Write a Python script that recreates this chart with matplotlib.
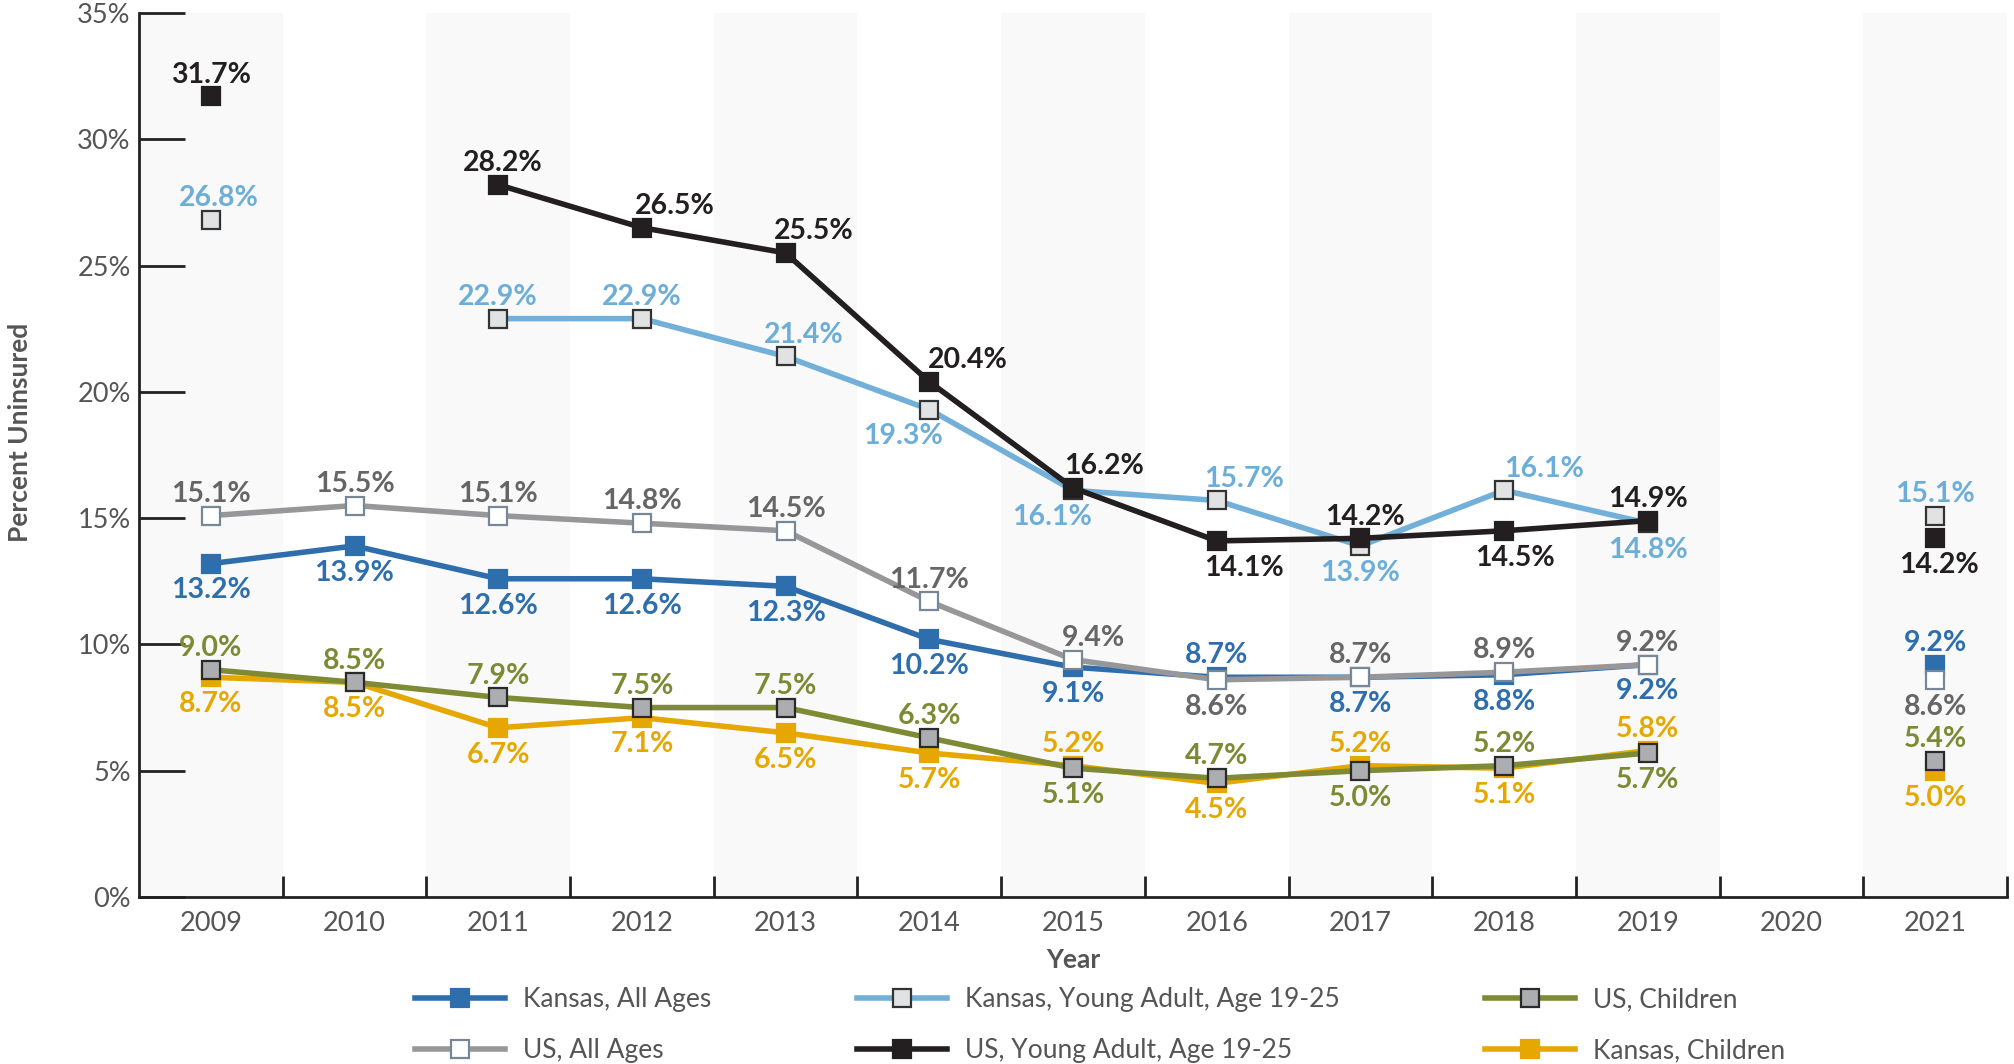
import numpy as np
import matplotlib
matplotlib.use("Agg")
import matplotlib.pyplot as plt

plt.rcParams['font.family'] = ['Lato', 'DejaVu Sans']

years = [2009, 2010, 2011, 2012, 2013, 2014, 2015, 2016, 2017, 2018, 2019, 2020, 2021]
nan = np.nan
ks_all = [13.2, 13.9, 12.6, 12.6, 12.3, 10.2, 9.1, 8.7, 8.7, 8.8, 9.2, nan, 9.2]
ks_ya = [26.8, nan, 22.9, 22.9, 21.4, 19.3, 16.1, 15.7, 13.9, 16.1, 14.8, nan, 15.1]
us_ch = [9.0, 8.5, 7.9, 7.5, 7.5, 6.3, 5.1, 4.7, 5.0, 5.2, 5.7, nan, 5.4]
us_all = [15.1, 15.5, 15.1, 14.8, 14.5, 11.7, 9.4, 8.6, 8.7, 8.9, 9.2, nan, 8.6]
us_ya = [31.7, nan, 28.2, 26.5, 25.5, 20.4, 16.2, 14.1, 14.2, 14.5, 14.9, nan, 14.2]
ks_ch = [8.7, 8.5, 6.7, 7.1, 6.5, 5.7, 5.2, 4.5, 5.2, 5.1, 5.8, nan, 5.0]

names = ["Kansas, All Ages", "Kansas, Young Adult, Age 19-25", "US, Children",
         "US, All Ages", "US, Young Adult, Age 19-25", "Kansas, Children"]

# label placement: +1 above, -1 below ; horizontal shift (points)
pos_ks_all = [-1, -1, -1, -1, -1, -1, -1, 1, -1, -1, -1, 0, 1]
pos_ks_ya = [1, 0, 1, 1, 1, -1, -1, 1, -1, 1, -1, 0, 1]
pos_us_ch = [1, 1, 1, 1, 1, 1, -1, 1, -1, 1, -1, 0, 1]
pos_us_all = [1, 1, 1, 1, 1, 1, 1, -1, 1, 1, 1, 0, -1]
pos_us_ya = [1, 0, 1, 1, 1, 1, 1, -1, 1, -1, 1, 0, -1]
pos_ks_ch = [-1, -1, -1, -1, -1, -1, 1, -1, 1, -1, 1, 0, -1]
dx_ks_ya = [6, 0, 0, 0, 13, -19, -15, 20, 0, 29, 0, 0, 0]
dx_us_ya = [0, 0, 3, 24, 20, 28, 22, 20, 3, 8, 0, 0, 3]
dx_us_all = [0, 0, 0, 0, 0, 0, 15, 0, 0, 0, 0, 0, 0]
dx_zero = [0] * 13

fig = plt.figure(figsize=(20.15, 10.64), dpi=100)
ax = fig.add_axes([139 / 2015, 167 / 1064, 1868 / 2015, 884 / 1064])

for y0 in range(2009, 2022, 2):
    ax.axvspan(y0 - 0.5, y0 + 0.5, color='#f9f9f9', zorder=0, lw=0)

series = [
    # data, line color, face, edge, label color, pos, dx, zorder
    (ks_ch, '#e6a800', '#e6a800', '#e6a800', '#e6a800', pos_ks_ch, dx_zero, 3),
    (ks_all, '#2e6ead', '#2e6ead', '#2e6ead', '#2e6ead', pos_ks_all, dx_zero, 4),
    (ks_ya, '#72b0d9', '#e1e2e3', '#333333', '#6daed8', pos_ks_ya, dx_ks_ya, 5),
    (us_ch, '#7f8a35', '#acadb0', '#2a2a2a', '#7d8a34', pos_us_ch, dx_zero, 6),
    (us_all, '#97979a', '#ffffff', '#788796', '#666666', pos_us_all, dx_us_all, 7),
    (us_ya, '#231f20', '#231f20', '#231f20', '#231f20', pos_us_ya, dx_us_ya, 8),
]
label_of = {id(ks_all): names[0], id(ks_ya): names[1], id(us_ch): names[2],
            id(us_all): names[3], id(us_ya): names[4], id(ks_ch): names[5]}
handles = {}
for data, lc, fc, ec, tc, pos, dx, z in series:
    h, = ax.plot(years, data, color=lc, lw=4, marker='s', ms=13, mfc=fc, mec=ec,
                 mew=1.6, zorder=z, label=label_of[id(data)])
    handles[label_of[id(data)]] = h
    for x, v, p, d in zip(years, data, pos, dx):
        if np.isnan(v):
            continue
        ax.annotate(f"{v:.1f}%", (x, v), xytext=(d, 17.5 * p), textcoords='offset points',
                    ha='center', va='center_baseline', fontsize=20.5, fontweight='bold',
                    color=tc, zorder=10)

ax.set_xlim(2008.5, 2021.5)
ax.set_ylim(0, 35)
ax.set_yticks(range(0, 36, 5))
ax.set_yticklabels([f"{t}%" for t in range(0, 36, 5)])
ax.set_xticks([y + 0.5 for y in years])
ax.set_xticklabels([])
ax.set_xticks(years, minor=True)
ax.set_xticklabels([str(y) for y in years], minor=True)
ax.tick_params(axis='x', which='major', direction='in', length=15, width=2, color='#222222')
ax.tick_params(axis='x', which='minor', length=0, pad=10, labelsize=19.5, labelcolor='#555555')
ax.tick_params(axis='y', direction='in', length=33, width=2, color='#222222',
               pad=6, labelsize=19.5, labelcolor='#555555')
for s in ['top', 'right']:
    ax.spines[s].set_visible(False)
for s in ['left', 'bottom']:
    ax.spines[s].set_linewidth(2)
    ax.spines[s].set_color('#222222')

ax.set_xlabel("Year", fontsize=19, fontweight='bold', color='#555555', labelpad=9)
fig.text(20 / 2015, 1 - 432 / 1064, "Percent Uninsured", rotation=90, ha='center', va='center',
         fontsize=19, fontweight='bold', color='#555555')

order = [names[0], names[3], names[1], names[4], names[2], names[5]]
fig.legend([handles[n] for n in order], order, loc='center', ncol=3,
           bbox_to_anchor=(0.546, 0.0365), frameon=False, fontsize=19,
           handlelength=3.4, handletextpad=0.7, columnspacing=5.5, labelspacing=1.0,
           labelcolor='#555555')

fig.savefig("out.png", dpi=100)
